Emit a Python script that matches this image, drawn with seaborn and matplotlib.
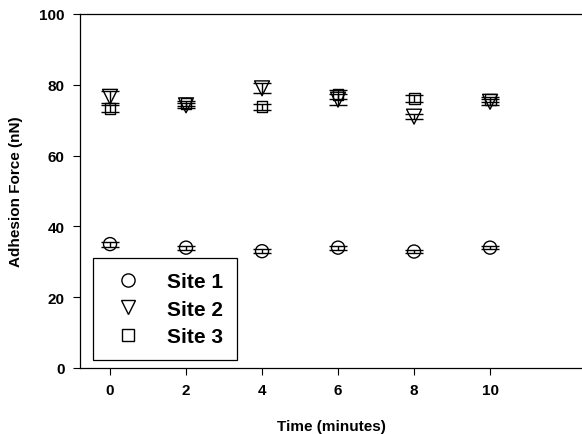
import matplotlib
matplotlib.use("Agg")
import matplotlib.pyplot as plt
from matplotlib.lines import Line2D
import seaborn as sns
import pandas as pd

time_min = [0, 2, 4, 6, 8, 10]
site1 = [35.0, 34.0, 33.0, 34.0, 32.9, 34.0]
site1_err = [0.7, 0.6, 0.5, 0.6, 0.5, 0.5]
site2 = [76.6, 74.2, 79.0, 75.8, 71.0, 75.2]
site2_err = [1.6, 0.8, 1.4, 1.5, 0.8, 0.8]
site3 = [73.4, 74.7, 73.8, 77.3, 76.1, 75.8]
site3_err = [1.0, 0.8, 0.8, 1.3, 1.0, 0.7]
labels = ["Site 1", "Site 2", "Site 3"]
yticks = [0, 20, 40, 60, 80, 100]
xticks = [0, 2, 4, 6, 8, 10]

sns.set_theme(style="white")
plt.rcParams['font.family'] = ['Liberation Sans', 'DejaVu Sans']
plt.rcParams['font.weight'] = 'bold'
for k in ['text.color', 'axes.labelcolor', 'xtick.color', 'ytick.color']:
    plt.rcParams[k] = 'black'

fig = plt.figure(figsize=(5.82, 4.35), dpi=100)
ax = fig.add_axes([80/582, 1-369/435, 1-80/582, (369-15)/435])

series = [(site1, site1_err, 'o', 88), (site2, site2_err, 'v', 115), (site3, site3_err, 's', 62)]
for (vals, errs, mk, s), lab in zip(series, labels):
    df = pd.DataFrame({"time": time_min, "force": vals})
    ax.errorbar(time_min, vals, yerr=errs, fmt='none', ecolor='black',
                elinewidth=1.0, capsize=6.5, capthick=1.0, zorder=2)
    sns.scatterplot(data=df, x="time", y="force", marker=mk, s=s,
                    facecolor='none', edgecolor='black', linewidth=1.0,
                    ax=ax, zorder=3, legend=False)

ax.set_xlim(-0.79, 12.42)
ax.set_ylim(0, 100)
ax.set_xticks(xticks)
ax.set_yticks(yticks)
ax.tick_params(axis='both', direction='out', length=5, width=0.8, color='black',
               labelcolor='black', labelsize=11, pad=6, bottom=True, left=True)
for lab in ax.get_xticklabels() + ax.get_yticklabels():
    lab.set_fontweight('bold')
ax.set_xlabel("Time (minutes)", fontsize=11, fontweight='bold', labelpad=16, color='black')
ax.set_ylabel("Adhesion Force (nN)", fontsize=11, fontweight='bold', labelpad=12, color='black')
ax.spines['right'].set_visible(False)
for sp in ['left', 'bottom', 'top']:
    ax.spines[sp].set_color('black')
    ax.spines[sp].set_linewidth(0.9)
ax.grid(False)

handles = [Line2D([], [], marker=m, linestyle='none', markerfacecolor='none',
                  markeredgecolor='black', markersize=ms, markeredgewidth=1.0)
           for m, ms in [('o', 9.5), ('v', 10), ('s', 8)]]
leg = ax.legend(handles, labels, loc='upper left', bbox_to_anchor=((93-80)/502, (369-259)/354),
                frameon=True, fancybox=False, edgecolor='black', framealpha=1,
                prop={'weight': 'bold', 'size': 15}, handletextpad=0.88,
                borderpad=0.69, labelspacing=0.4, handlelength=1.98, borderaxespad=0)
leg.get_frame().set_linewidth(0.9)
for t in leg.get_texts():
    t.set_color('black')

fig.savefig("out.png", dpi=100)
